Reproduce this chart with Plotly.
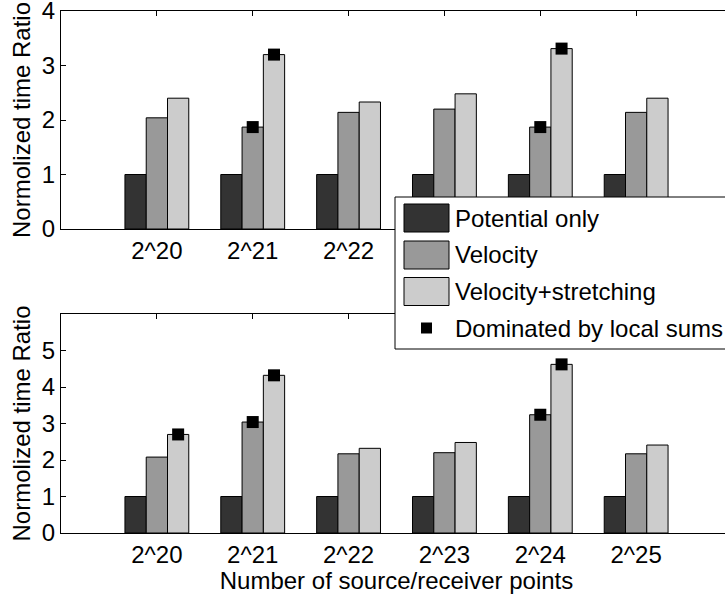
import plotly.graph_objects as go
from plotly.subplots import make_subplots

# Problem sizes (number of source/receiver points)
categories = ["2^20", "2^21", "2^22", "2^23", "2^24", "2^25"]

# Normalized time ratios, upper panel
top_potential = [1.00, 1.00, 1.00, 1.00, 1.00, 1.00]
top_velocity = [2.04, 1.87, 2.14, 2.20, 1.87, 2.14]
top_stretching = [2.40, 3.20, 2.33, 2.48, 3.31, 2.40]

# Normalized time ratios, lower panel
bottom_potential = [1.00, 1.00, 1.00, 1.00, 1.00, 1.00]
bottom_velocity = [2.08, 3.04, 2.17, 2.20, 3.24, 2.17]
bottom_stretching = [2.70, 4.32, 2.32, 2.48, 4.62, 2.41]

# Cases whose run time is dominated by local sums
top_velocity_local = [False, True, False, False, True, False]
top_stretching_local = [False, True, False, False, True, False]
bottom_velocity_local = [False, True, False, False, True, False]
bottom_stretching_local = [True, True, False, False, True, False]

# Upper-panel labels that stay visible beside the legend box
top_labels_shown = 3

series_names = ["Potential only", "Velocity", "Velocity+stretching"]
series_colors = ["#333333", "#999999", "#cccccc"]
local_name = "Dominated by local sums"

W, H = 733, 594
ML, MR, MT, MB = 61, 1, 11, 61
FONT = "Liberation Sans, Arial, Helvetica, sans-serif"
FS = 24
BAR_W = 0.222

xpos = list(range(1, len(categories) + 1))

fig = make_subplots(rows=2, cols=1, vertical_spacing=0.0)


def add_panel(row, values, flags):
    for k, (vals, name, color) in enumerate(zip(values, series_names, series_colors)):
        shift = (k - 1) * BAR_W
        fig.add_trace(go.Bar(
            x=[p + shift for p in xpos], y=vals, width=BAR_W, name=name,
            marker=dict(color=color, line=dict(color="#000000", width=1)),
            showlegend=False,
        ), row=row, col=1)
    for k, flag in ((1, flags[0]), (2, flags[1])):
        shift = (k - 1) * BAR_W
        xs = [p + shift for p, f in zip(xpos, flag) if f]
        ys = [v for v, f in zip(values[k], flag) if f]
        fig.add_trace(go.Scatter(
            x=xs, y=ys, mode="markers", name=local_name,
            marker=dict(symbol="square", size=12, color="#000000",
                        line=dict(width=0)),
            showlegend=False, cliponaxis=False,
        ), row=row, col=1)


add_panel(1, [top_potential, top_velocity, top_stretching],
          [top_velocity_local, top_stretching_local])
add_panel(2, [bottom_potential, bottom_velocity, bottom_stretching],
          [bottom_velocity_local, bottom_stretching_local])

plot_h = H - MT - MB
top_dom = [(H - MB - 229) / plot_h, 1.0]
bot_dom = [0.0, (H - MB - 314) / plot_h]

axis_common = dict(
    showline=True, linecolor="#000000", linewidth=1, mirror="ticks",
    ticks="inside", ticklen=5, tickcolor="#000000", tickwidth=1,
    showgrid=False, zeroline=False, layer="below traces",
    ticklabeloverflow="allow", automargin=False,
    tickfont=dict(family=FONT, size=FS, color="#000000"),
)

fig.update_xaxes(range=[0, 7], tickvals=xpos, **axis_common)
fig.update_yaxes(**axis_common)

title_font = dict(family=FONT, size=FS, color="#000000")
fig.update_layout(
    xaxis=dict(domain=[0, 1], anchor="y",
               ticktext=[c if i < top_labels_shown else ""
                         for i, c in enumerate(categories)]),
    xaxis2=dict(domain=[0, 1], anchor="y2", ticktext=categories,
                title=dict(text="Number of source/receiver points",
                           font=title_font, standoff=0)),
    yaxis=dict(domain=top_dom, range=[0, 4], tickvals=[0, 1, 2, 3, 4],
               title=dict(text="Normolized time Ratio", font=title_font,
                          standoff=4)),
    yaxis2=dict(domain=bot_dom, range=[0, 6], tickvals=[0, 1, 2, 3, 4, 5],
                title=dict(text="Normolized time Ratio", font=title_font,
                           standoff=4)),
    barmode="overlay",
    width=W, height=H,
    margin=dict(l=ML, r=MR, t=MT, b=MB, pad=0, autoexpand=False),
    paper_bgcolor="#ffffff", plot_bgcolor="#ffffff",
    showlegend=False,
)


# Legend box drawn in pixel space on top of the panels
def px(x):
    return (x - ML) / (W - ML - MR)


def py(y):
    return (H - MB - y) / (H - MT - MB)


shapes = [dict(type="rect", xref="paper", yref="paper",
               x0=px(395), x1=px(745), y0=py(349), y1=py(197),
               line=dict(color="#000000", width=1), fillcolor="#ffffff",
               layer="above")]
annotations = []
row_y = [218, 255, 291.5, 328]
for i, (name, color) in enumerate(zip(series_names, series_colors)):
    cy = row_y[i]
    shapes.append(dict(type="rect", xref="paper", yref="paper",
                       x0=px(404), x1=px(449), y0=py(cy + 14), y1=py(cy - 14),
                       line=dict(color="#000000", width=1), fillcolor=color,
                       layer="above"))
    annotations.append(dict(text=name, xref="paper", yref="paper",
                            x=px(453), y=py(cy), xanchor="left", yanchor="middle",
                            showarrow=False, font=title_font))
cy = row_y[3]
shapes.append(dict(type="rect", xref="paper", yref="paper",
                   x0=px(421), x1=px(432), y0=py(cy + 5.5), y1=py(cy - 5.5),
                   line=dict(width=0), fillcolor="#000000", layer="above"))
annotations.append(dict(text=local_name, xref="paper", yref="paper",
                        x=px(453), y=py(cy), xanchor="left", yanchor="middle",
                        showarrow=False, font=title_font))

fig.update_layout(shapes=shapes, annotations=annotations)

fig.write_html("out.html")
